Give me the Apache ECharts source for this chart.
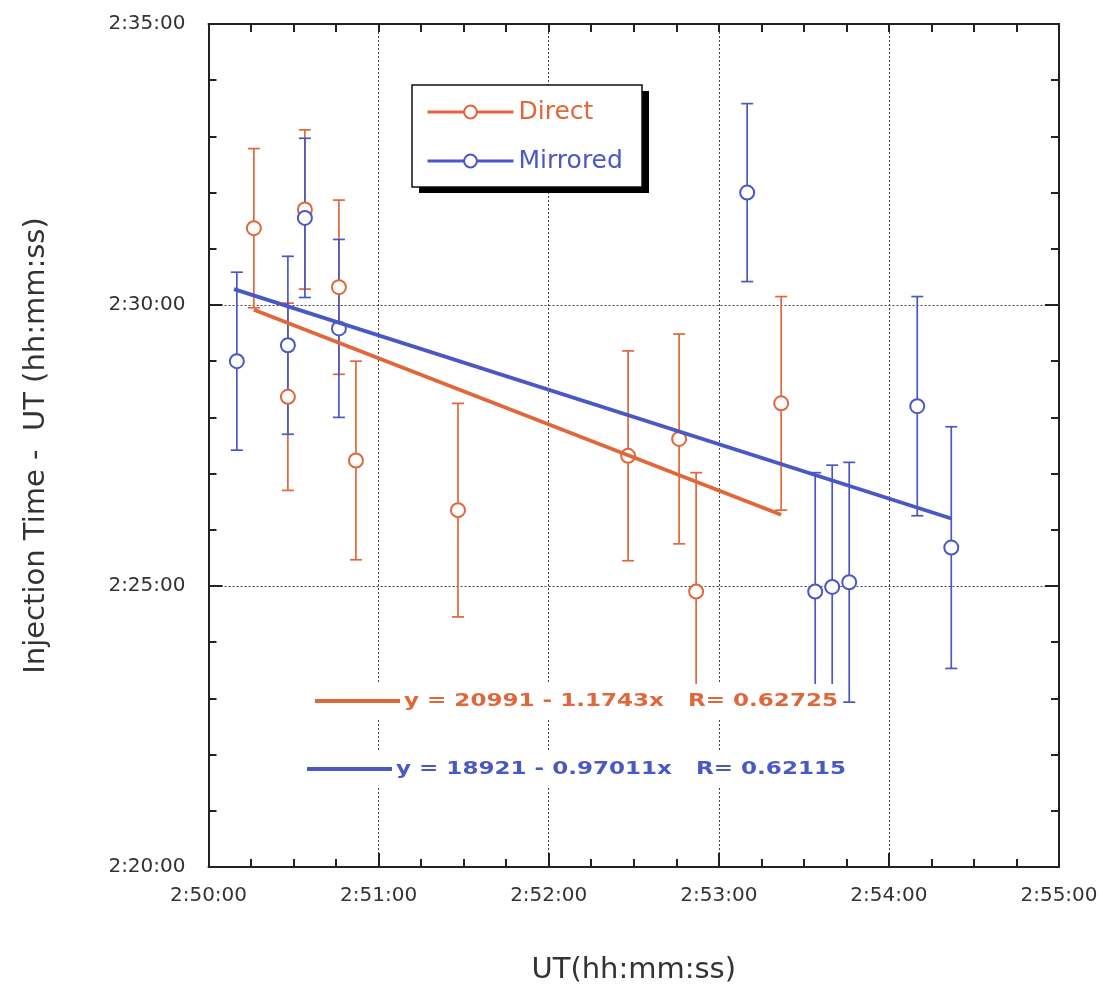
<!DOCTYPE html>
<html>
<head>
<meta charset="utf-8">
<script src="https://cdn.jsdelivr.net/npm/echarts@6/dist/echarts.min.js"></script>
<style>html,body{margin:0;padding:0;background:#fff}#c{width:1103px;height:996px}</style>
</head>
<body>
<div id="c"></div>
<script>
// ---- data (times in seconds of day) ----
const directX   = [10216, 10228, 10234, 10246, 10252, 10288, 10348, 10366, 10372, 10402];
const directY   = [9082, 8902, 9102, 9019, 8834, 8781, 8839, 8857, 8694, 8895];
const directErr = [85, 100, 85, 93, 106, 114, 112, 112, 127, 114];

const mirroredX   = [10210, 10228, 10234, 10246, 10390, 10414, 10420, 10426, 10450, 10462];
const mirroredY   = [8940, 8957, 9093, 8975, 9120, 8694, 8699, 8704, 8892, 8741];
const mirroredErr = [95, 95, 85, 95, 95, 127, 130, 128, 117, 129];

const directFitX   = [10216, 10402];
const directFitY   = [8995, 8776];
const mirroredFitX = [10209, 10462];
const mirroredFitY = [9017, 8772];

const xMin = 10200, xMax = 10500, xStep = 60;
const yMin = 8400, yMax = 9300, yStep = 300;

const seriesNames = ['Direct', 'Mirrored'];
const directEq   = 'y = 20991 - 1.1743x   R= 0.62725';
const mirroredEq = 'y = 18921 - 0.97011x   R= 0.62115';
const xTitle = 'UT(hh:mm:ss)';
const yTitle = 'Injection Time -  UT (hh:mm:ss)';

// ---- styling ----
const ORANGE = '#E0673A';
const BLUE = '#4A58C6';
const FONT = 'DejaVu Sans';

function fmt(s) {
  s = Math.round(s);
  const h = Math.floor(s / 3600);
  const m = Math.floor((s % 3600) / 60);
  const sec = s % 60;
  return h + ':' + String(m).padStart(2, '0') + ':' + String(sec).padStart(2, '0');
}

function pts(xs, ys) { return xs.map((x, i) => [x, ys[i]]); }
function bars(xs, ys, es) { return xs.map((x, i) => [x, ys[i] - es[i], ys[i] + es[i]]); }

function errRender(color) {
  return function (params, api) {
    const x = api.value(0), lo = api.value(1), hi = api.value(2);
    const p1 = api.coord([x, hi]);
    const p2 = api.coord([x, lo]);
    const w = 6;
    const style = { stroke: color, lineWidth: 1.7 };
    return {
      type: 'group',
      children: [
        { type: 'line', shape: { x1: p1[0], y1: p1[1], x2: p2[0], y2: p2[1] }, style: style },
        { type: 'line', shape: { x1: p1[0] - w, y1: p1[1], x2: p1[0] + w, y2: p1[1] }, style: style },
        { type: 'line', shape: { x1: p2[0] - w, y1: p2[1], x2: p2[0] + w, y2: p2[1] }, style: style }
      ]
    };
  };
}

const axisLineStyle = { color: '#222', width: 2 };
const splitLineStyle = { type: [2, 2], color: '#444', width: 1 };

const chart = echarts.init(document.getElementById('c'), null, { renderer: 'canvas' });

const option = {
  backgroundColor: '#fff',
  animation: false,
  grid: { left: 208.5, right: 44, top: 24, bottom: 129, containLabel: false },
  legend: {
    orient: 'vertical',
    left: 412, top: 85,
    data: [
      { name: seriesNames[0], textStyle: { color: ORANGE } },
      { name: seriesNames[1], textStyle: { color: BLUE } }
    ],
    itemWidth: 86, itemHeight: 16, itemGap: 19,
    padding: [12, 19, 11, 14],
    lineStyle: { width: 3, opacity: 1 },
    textStyle: { fontFamily: FONT, fontSize: 25, lineHeight: 30 },
    selectedMode: false,
    z: 20
  },
  xAxis: [{
    type: 'value', min: xMin, max: xMax, interval: xStep,
    position: 'bottom',
    name: xTitle, nameLocation: 'middle', nameGap: 89,
    nameTextStyle: { fontFamily: FONT, fontSize: 29, color: '#333' },
    axisLine: { show: true, lineStyle: axisLineStyle },
    axisTick: { show: true, inside: true, length: 14, lineStyle: { color: '#222', width: 2 } },
    minorTick: { show: true, splitNumber: 4, length: 8, lineStyle: { color: '#222', width: 2 } },
    axisLabel: { formatter: fmt, fontFamily: FONT, fontSize: 20, color: '#333', margin: 19 },
    splitLine: { show: true, lineStyle: splitLineStyle }
  }, {
    type: 'value', min: xMin, max: xMax, interval: xStep,
    position: 'top',
    axisLine: { show: true, lineStyle: axisLineStyle },
    axisTick: { show: true, inside: true, length: 8, lineStyle: { color: '#222', width: 2 } },
    minorTick: { show: true, splitNumber: 4, length: 8, lineStyle: { color: '#222', width: 2 } },
    axisLabel: { show: false },
    splitLine: { show: false }
  }],
  yAxis: [{
    type: 'value', min: yMin, max: yMax, interval: yStep,
    position: 'left',
    name: yTitle, nameLocation: 'middle', nameGap: 158, nameRotate: 90,
    nameTextStyle: { fontFamily: FONT, fontSize: 29, color: '#333' },
    axisLine: { show: true, lineStyle: axisLineStyle },
    axisTick: { show: true, inside: true, length: 14, lineStyle: { color: '#222', width: 2 } },
    minorTick: { show: true, splitNumber: 5, length: 8, lineStyle: { color: '#222', width: 2 } },
    axisLabel: { formatter: fmt, fontFamily: FONT, fontSize: 20, color: '#333', margin: 23 },
    splitLine: { show: true, lineStyle: splitLineStyle }
  }, {
    type: 'value', min: yMin, max: yMax, interval: yStep,
    position: 'right',
    axisLine: { show: true, lineStyle: axisLineStyle },
    axisTick: { show: true, inside: true, length: 14, lineStyle: { color: '#222', width: 2 } },
    minorTick: { show: true, splitNumber: 5, length: 8, lineStyle: { color: '#222', width: 2 } },
    axisLabel: { show: false },
    splitLine: { show: false }
  }],
  series: [
    {
      name: 'Direct err', type: 'custom', renderItem: errRender(ORANGE),
      data: bars(directX, directY, directErr), encode: { x: 0, y: [1, 2] }, z: 3, silent: true
    },
    {
      name: 'Mirrored err', type: 'custom', renderItem: errRender(BLUE),
      data: bars(mirroredX, mirroredY, mirroredErr), encode: { x: 0, y: [1, 2] }, z: 3, silent: true
    },
    {
      name: 'Direct', type: 'line', data: pts(directX, directY),
      symbol: 'emptyCircle', symbolSize: 14,
      itemStyle: { color: ORANGE, borderWidth: 1.7 },
      lineStyle: { width: 0, color: ORANGE }, z: 4
    },
    {
      name: 'Mirrored', type: 'line', data: pts(mirroredX, mirroredY),
      symbol: 'emptyCircle', symbolSize: 14,
      itemStyle: { color: BLUE, borderWidth: 1.7 },
      lineStyle: { width: 0, color: BLUE }, z: 4
    },
    {
      name: 'Direct fit', type: 'line', data: pts(directFitX, directFitY),
      symbol: 'none', lineStyle: { color: ORANGE, width: 3.8 }, z: 5
    },
    {
      name: 'Mirrored fit', type: 'line', data: pts(mirroredFitX, mirroredFitY),
      symbol: 'none', lineStyle: { color: BLUE, width: 3.8 }, z: 5
    }
  ],
  graphic: [
    // legend frame with hard shadow
    { type: 'rect', shape: { x: 419, y: 91, width: 230, height: 102 }, style: { fill: '#000' }, z: 10 },
    { type: 'rect', shape: { x: 412, y: 85, width: 230, height: 102 }, style: { fill: '#fff', stroke: '#111', lineWidth: 1.5 }, z: 11 },
    // fit annotations
    { type: 'rect', shape: { x: 310, y: 684, width: 532, height: 36 }, style: { fill: '#fff' }, z: 10 },
    { type: 'rect', shape: { x: 303, y: 751, width: 547, height: 36 }, style: { fill: '#fff' }, z: 10 },
    { type: 'line', shape: { x1: 315, y1: 701, x2: 400, y2: 701 }, style: { stroke: ORANGE, lineWidth: 3.8 }, z: 11 },
    { type: 'line', shape: { x1: 307, y1: 769, x2: 392, y2: 769 }, style: { stroke: BLUE, lineWidth: 3.8 }, z: 11 },
    { type: 'text', x: 404, y: 701, scaleX: 1.28, z: 11,
      style: { text: directEq, fill: ORANGE, font: 'bold 18px "DejaVu Sans"', textVerticalAlign: 'middle', textAlign: 'left' } },
    { type: 'text', x: 396, y: 769, scaleX: 1.28, z: 11,
      style: { text: mirroredEq, fill: BLUE, font: 'bold 18px "DejaVu Sans"', textVerticalAlign: 'middle', textAlign: 'left' } }
  ]
};

chart.setOption(option);
</script>
</body>
</html>
